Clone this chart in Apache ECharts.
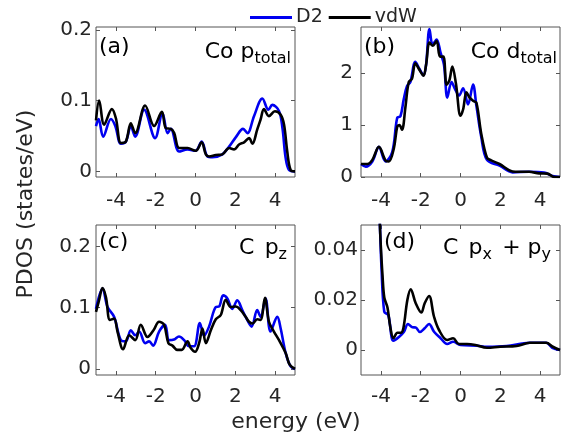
<!DOCTYPE html>
<html><head><meta charset="utf-8">
<script src="https://cdn.jsdelivr.net/npm/echarts@6/dist/echarts.min.js"></script>
<style>html,body{margin:0;padding:0;background:#fff}#c{width:562px;height:442px}</style>
</head><body><div id="c"></div>
<script>
// ---- data: [energy (eV), PDOS] ----
const coP_D2 = [[-5.0,0.064],[-4.87,0.074],[-4.64,0.049],[-4.25,0.074],[-4.03,0.064],[-3.75,0.039],[-3.5,0.042],[-3.25,0.064],[-3.03,0.049],[-2.58,0.087],[-2.03,0.047],[-1.66,0.082],[-1.4,0.054],[-1.24,0.060],[-0.82,0.028],[-0.4,0.031],[0.0,0.029],[0.31,0.042],[0.6,0.021],[0.85,0.020],[1.35,0.024],[1.69,0.035],[2.02,0.048],[2.39,0.060],[2.61,0.054],[2.94,0.078],[3.36,0.103],[3.66,0.087],[3.86,0.094],[4.2,0.085],[4.37,0.061],[4.53,0.019],[4.7,0.002],[5.0,0.0]];
const coP_vdW = [[-5.0,0.072],[-4.84,0.100],[-4.59,0.066],[-4.2,0.088],[-4.0,0.075],[-3.75,0.040],[-3.5,0.042],[-3.25,0.068],[-3.03,0.054],[-2.53,0.093],[-2.08,0.064],[-1.69,0.084],[-1.49,0.061],[-1.24,0.060],[-1.07,0.054],[-0.82,0.033],[-0.4,0.033],[0.01,0.029],[0.31,0.041],[0.52,0.024],[0.68,0.021],[1.02,0.023],[1.35,0.024],[1.69,0.033],[1.94,0.031],[2.19,0.038],[2.44,0.041],[2.69,0.047],[2.86,0.039],[3.1,0.059],[3.27,0.073],[3.44,0.088],[3.69,0.078],[3.99,0.085],[4.28,0.080],[4.45,0.066],[4.61,0.028],[4.78,0.002],[5.0,0.0]];
const coD_D2 = [[-5.0,0.25],[-4.76,0.20],[-4.43,0.30],[-4.1,0.58],[-3.77,0.30],[-3.43,0.48],[-3.18,1.14],[-3.02,1.17],[-2.85,1.50],[-2.69,1.75],[-2.52,1.83],[-2.27,2.22],[-2.06,2.08],[-1.86,1.96],[-1.73,2.16],[-1.56,2.85],[-1.4,2.55],[-1.2,2.65],[-1.0,2.39],[-0.83,2.16],[-0.66,1.53],[-0.45,1.83],[-0.28,1.70],[-0.07,1.57],[0.13,1.71],[0.38,1.40],[0.63,1.78],[0.8,1.37],[1.04,0.78],[1.33,0.33],[1.96,0.22],[2.62,0.09],[3.45,0.10],[4.2,0.085],[4.62,0.02],[5.0,0.0]];
const coD_vdW = [[-5.0,0.25],[-4.68,0.25],[-4.43,0.33],[-4.1,0.58],[-3.77,0.32],[-3.6,0.30],[-3.35,0.55],[-3.18,0.97],[-3.07,1.0],[-2.94,0.91],[-2.77,1.34],[-2.6,1.83],[-2.44,1.89],[-2.27,2.19],[-2.06,2.06],[-1.86,1.95],[-1.73,2.16],[-1.56,2.59],[-1.4,2.53],[-1.2,2.62],[-1.03,2.32],[-0.86,2.32],[-0.7,1.78],[-0.56,1.86],[-0.41,2.13],[-0.23,1.80],[0.0,1.18],[0.13,1.30],[0.3,1.63],[0.46,1.53],[0.63,1.47],[0.8,1.43],[1.04,0.84],[1.33,0.37],[1.54,0.32],[1.96,0.25],[2.62,0.105],[2.95,0.10],[3.45,0.10],[3.95,0.07],[4.37,0.065],[4.7,0.0],[5.0,0.0]];
const cPz_D2 = [[-5.0,0.098],[-4.67,0.131],[-4.42,0.101],[-4.09,0.085],[-3.75,0.047],[-3.5,0.045],[-3.25,0.063],[-3.03,0.055],[-2.83,0.061],[-2.53,0.042],[-2.33,0.045],[-2.13,0.038],[-1.83,0.061],[-1.53,0.072],[-1.33,0.047],[-1.08,0.048],[-0.83,0.053],[-0.57,0.047],[-0.32,0.037],[-0.07,0.037],[0.22,0.075],[0.43,0.054],[0.68,0.069],[1.02,0.101],[1.19,0.102],[1.39,0.120],[1.6,0.115],[1.85,0.098],[2.1,0.112],[2.35,0.096],[2.6,0.080],[2.82,0.069],[3.1,0.096],[3.27,0.085],[3.52,0.115],[3.77,0.061],[4.11,0.085],[4.28,0.066],[4.53,0.026],[4.78,0.004],[5.0,0.0]];
const cPz_vdW = [[-5.0,0.093],[-4.87,0.109],[-4.67,0.132],[-4.5,0.117],[-4.3,0.080],[-4.09,0.082],[-3.92,0.061],[-3.64,0.032],[-3.33,0.055],[-3.03,0.047],[-2.75,0.072],[-2.41,0.052],[-2.11,0.063],[-1.83,0.077],[-1.58,0.072],[-1.36,0.042],[-1.16,0.038],[-0.91,0.031],[-0.69,0.031],[-0.4,0.045],[-0.24,0.034],[-0.02,0.028],[0.18,0.042],[0.35,0.066],[0.52,0.042],[0.77,0.063],[1.02,0.081],[1.27,0.088],[1.52,0.113],[1.77,0.101],[2.02,0.102],[2.27,0.096],[2.52,0.085],[2.69,0.077],[2.86,0.074],[3.1,0.081],[3.27,0.080],[3.49,0.116],[3.69,0.077],[3.94,0.061],[4.23,0.045],[4.53,0.026],[4.73,0.007],[5.0,0.0]];
const cPxy_D2 = [[-4.2,0.08],[-4.05,0.05],[-3.97,0.033],[-3.83,0.0153],[-3.63,0.014],[-3.37,0.0037],[-3.08,0.0053],[-2.84,0.0073],[-2.64,0.0104],[-2.42,0.0091],[-2.25,0.009],[-2.04,0.0072],[-1.8,0.0087],[-1.58,0.0104],[-1.33,0.0073],[-1.0,0.0047],[-0.67,0.0024],[-0.37,0.0033],[0.0,0.002],[0.83,0.0017],[1.33,0.0013],[2.32,0.0016],[3.48,0.0029],[4.31,0.0029],[4.61,0.0009],[5.0,0.0]];
const cPxy_vdW = [[-4.2,0.09],[-4.05,0.05],[-4.0,0.041],[-3.92,0.030],[-3.83,0.021],[-3.67,0.017],[-3.53,0.0093],[-3.37,0.0047],[-3.17,0.0069],[-3.0,0.0069],[-2.87,0.0087],[-2.67,0.020],[-2.5,0.0243],[-2.25,0.0187],[-1.97,0.015],[-1.8,0.0187],[-1.58,0.0216],[-1.33,0.0133],[-1.08,0.008],[-0.67,0.004],[-0.37,0.0047],[-0.08,0.0024],[0.33,0.0024],[0.75,0.002],[1.33,0.0009],[1.99,0.0013],[2.82,0.0016],[3.48,0.0029],[4.31,0.0029],[4.64,0.0013],[5.0,0.0]];

const xTicks = [-4, -2, 0, 2, 4];
const yTicks = [[0, 0.1, 0.2], [0, 1, 2], [0, 0.1, 0.2], [0, 0.02, 0.04]];
const yRanges = [[-0.008, 0.204], [0, 2.89], [-0.01, 0.235], [-0.01, 0.05]];
const seriesNames = ['D2', 'vdW'];
const panels = [[coP_D2, coP_vdW], [coD_D2, coD_vdW], [cPz_D2, cPz_vdW], [cPxy_D2, cPxy_vdW]];

// ---- layout / style ----
const FONT = 'DejaVu Sans';
const TXT = '#262626';
const BOX = '#555';
const colors = ['#0000f0', '#000000'];
const grids = [
  {left: 96, top: 27, width: 199, height: 150},
  {left: 361, top: 27, width: 199, height: 150},
  {left: 96, top: 225, width: 199, height: 150},
  {left: 361, top: 225, width: 199, height: 150}
];
const yMargins = [4, 8, 5, 3];
const xMargins = [14, 14, 12, 12];
const TICKFS = 20;

const option = {
  animation: false,
  backgroundColor: '#fff',
  legend: {
    data: seriesNames.map(n => ({name: n, icon: 'rect'})),
    left: 245, top: 3,
    itemWidth: 42, itemHeight: 3, itemGap: 6,
    textStyle: {fontFamily: FONT, fontSize: 19, color: TXT, padding: [0, 0, 0, -1]}
  },
  grid: grids.map(g => Object.assign({show: true, borderColor: BOX, borderWidth: 1, backgroundColor: 'transparent'}, g)),
  xAxis: [],
  yAxis: [],
  series: [],
  graphic: []
};

for (let i = 0; i < 4; i++) {
  const tickCommon = {show: true, inside: true, length: 4, lineStyle: {color: BOX, width: 1}};
  const noLine = {show: false, onZero: false};
  option.xAxis.push({
    type: 'value', gridIndex: i, min: -5, max: 5, position: 'bottom',
    axisLine: noLine, splitLine: {show: false},
    axisTick: Object.assign({customValues: xTicks}, tickCommon),
    axisLabel: {customValues: xTicks, fontFamily: FONT, fontSize: TICKFS, color: TXT, margin: xMargins[i]}
  });
  option.xAxis.push({
    type: 'value', gridIndex: i, min: -5, max: 5, position: 'top',
    axisLine: noLine, splitLine: {show: false},
    axisTick: Object.assign({customValues: xTicks}, tickCommon),
    axisLabel: {show: false}
  });
  const yt = yTicks[i];
  option.yAxis.push({
    type: 'value', gridIndex: i, min: yRanges[i][0], max: yRanges[i][1], position: 'left',
    axisLine: noLine, splitLine: {show: false},
    axisTick: Object.assign({customValues: yt}, tickCommon),
    axisLabel: {customValues: yt, fontFamily: FONT, fontSize: TICKFS, color: TXT, margin: yMargins[i],
      formatter: v => String(+v.toFixed(3))}
  });
  option.yAxis.push({
    type: 'value', gridIndex: i, min: yRanges[i][0], max: yRanges[i][1], position: 'right',
    axisLine: noLine, splitLine: {show: false},
    axisTick: Object.assign({customValues: yt}, tickCommon),
    axisLabel: {show: false}
  });
  panels[i].forEach((d, k) => {
    option.series.push({
      type: 'line', name: seriesNames[k], data: d,
      xAxisIndex: 2 * i, yAxisIndex: 2 * i,
      showSymbol: false, symbol: 'none', smooth: 0.35, clip: true,
      lineStyle: {color: colors[k], width: 2.6}, itemStyle: {color: colors[k]}
    });
  });
}

// panel annotations
const mainSt = {fontSize: 22, lineHeight: 29, fontFamily: FONT, color: '#000', verticalAlign: 'middle'};
const subSt = {fontSize: 16, lineHeight: 13, fontFamily: FONT, color: '#000', verticalAlign: 'bottom'};
const gapSt = {fontSize: 10, lineHeight: 10, fontFamily: FONT, color: '#000', verticalAlign: 'middle'};
function label(txt, x, y, align) {
  return {type: 'text', x: x, y: y, z: 10,
    style: {text: txt, align: align, verticalAlign: 'middle', fontFamily: FONT, fontSize: 22, fill: '#000',
      rich: {m: mainSt, s: subSt, g: gapSt}}};
}
option.graphic.push(
  label('{m|(a)}', 99, 47, 'left'),
  label('{m|Co p}{s|total}', 291, 52, 'right'),
  label('{m|(b)}', 364, 47, 'left'),
  label('{m|Co d}{s|total}', 557, 52, 'right'),
  label('{m|(c)}', 99, 242, 'left'),
  label('{m|C }{g| }{m|p}{s|z}', 287, 248, 'right'),
  label('{m|(d)}', 384, 242, 'left'),
  label('{m|C }{g| }{m|p}{s|x}{g| }{m| + p}{s|y}', 551, 248, 'right'),
  {type: 'text', x: 296, y: 422, style: {text: 'energy (eV)', align: 'center', verticalAlign: 'middle', fontFamily: FONT, fontSize: 22, fill: TXT}},
  {type: 'text', x: 26, y: 204, rotation: Math.PI / 2, style: {text: 'PDOS (states/eV)', align: 'center', verticalAlign: 'middle', fontFamily: FONT, fontSize: 22, fill: TXT}}
);

const chart = echarts.init(document.getElementById('c'), null, {renderer: 'canvas'});
chart.setOption(option);
</script></body></html>
